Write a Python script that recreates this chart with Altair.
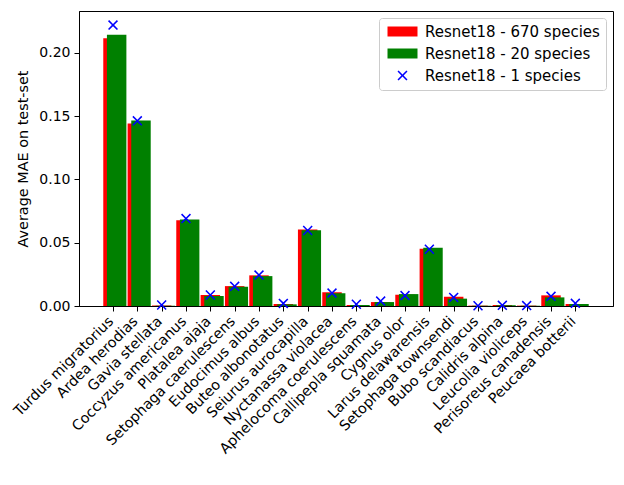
import json
import altair as alt
import pandas as pd

species = [
    "Turdus migratorius", "Ardea herodias", "Gavia stellata", "Coccyzus americanus",
    "Platalea ajaja", "Setophaga caerulescens", "Eudocimus albus", "Buteo albonotatus",
    "Seiurus aurocapilla", "Nyctanassa violacea", "Aphelocoma coerulescens",
    "Callipepla squamata", "Cygnus olor", "Larus delawarensis", "Setophaga townsendi",
    "Bubo scandiacus", "Calidris alpina", "Leucolia violiceps", "Perisoreus canadensis",
    "Peucaea botterii",
]
mae_670 = [0.2113, 0.1441, 0.0004, 0.0677, 0.0087, 0.0157, 0.0242, 0.0016, 0.0604, 0.0108,
           0.0008, 0.0031, 0.0089, 0.0451, 0.0073, 0.0003, 0.0008, 0.0003, 0.0084, 0.0016]
mae_20 = [0.2142, 0.1465, 0.0002, 0.0683, 0.0079, 0.0152, 0.0236, 0.0013, 0.0598, 0.0100,
          0.0008, 0.0031, 0.0094, 0.0460, 0.0058, 0.0002, 0.0006, 0.0002, 0.0068, 0.0016]
mae_1 = [0.2218, 0.1462, 0.0008, 0.0690, 0.0087, 0.0155, 0.0244, 0.0020, 0.0596, 0.0102,
         0.0014, 0.0039, 0.0082, 0.0448, 0.0068, 0.0002, 0.0005, 0.0003, 0.0076, 0.0021]

series_names = ["Resnet18 - 670 species", "Resnet18 - 20 species", "Resnet18 - 1 species"]
series_colors = ["#ff0000", "#008000", "#0000ff"]
yticks = [0.0, 0.05, 0.10, 0.15, 0.20]

rows = []
for i, name in enumerate(species):
    rows.append({"idx": i, "name": name, "series": series_names[0], "value": mae_670[i]})
for i, name in enumerate(species):
    rows.append({"idx": i, "name": name, "series": series_names[1], "value": mae_20[i]})
bars_df = pd.DataFrame(rows)
pts_df = pd.DataFrame({"idx": list(range(len(species))), "name": species,
                       "series": series_names[2], "value": mae_1})

FONT = "DejaVu Sans"
FS = 14

rect_path = "M-3,-1H3V1H-3Z"
x_path = ("M-1,-0.78L-0.78,-1L0,-0.22L0.78,-1L1,-0.78L0.22,0L1,0.78L0.78,1"
          "L0,0.22L-0.78,1L-1,0.78L-0.22,0Z")

xscale = alt.Scale(domain=[-1.3975, 20.5475], nice=False, zero=False)
yscale = alt.Scale(domain=[0, 0.2329], nice=False)
color_scale = alt.Scale(domain=series_names, range=series_colors)
shape_scale = alt.Scale(domain=series_names, range=[rect_path, rect_path, x_path])

label_expr = json.dumps(species) + "[datum.value]"

xaxis = alt.Axis(values=list(range(len(species))), labelExpr=label_expr, title=None,
                 labelAngle=315, labelAlign="right", labelBaseline="top",
                 labelOverlap=False, labelFlush=False, labelBound=False, labelLimit=0,
                 labelFontSize=14.3,
                 labelPadding=3, labelOffset=-7, tickSize=5, grid=False)
yaxis = alt.Axis(values=yticks, format=".2f", title="Average MAE on test-set",
                 titleFontSize=14.4,
                 tickSize=5, labelPadding=4, titlePadding=8, grid=False)
legend = alt.Legend(title=None, orient="top-right")

bars = alt.Chart(bars_df).mark_bar(opacity=1).transform_calculate(
    x0="datum.idx - 0.4 + (datum.series == '" + series_names[1] + "' ? 0.15 : 0)",
    x1="datum.idx + 0.4 + (datum.series == '" + series_names[1] + "' ? 0.15 : 0)",
).encode(
    x=alt.X("x0:Q", scale=xscale, axis=xaxis),
    x2="x1:Q",
    y=alt.Y("value:Q", scale=yscale, axis=yaxis),
    y2=alt.datum(0),
    color=alt.Color("series:N", scale=color_scale, legend=legend),
)

points = alt.Chart(pts_df).mark_point(filled=True, size=100, opacity=1).encode(
    x=alt.X("idx:Q", scale=xscale, axis=xaxis),
    y=alt.Y("value:Q", scale=yscale, axis=yaxis),
    color=alt.Color("series:N", scale=color_scale, legend=legend),
    shape=alt.Shape("series:N", scale=shape_scale, legend=legend),
)

chart = alt.layer(bars, points).properties(
    width=534, height=295,
    autosize=alt.AutoSizeParams(type="none"),
    padding={"left": 71, "top": 3, "right": 3, "bottom": 160},
).configure_view(
    stroke="black", strokeWidth=1
).configure_axis(
    domainColor="black", domainWidth=1, tickColor="black", tickWidth=1,
    labelColor="black", labelFont=FONT, labelFontSize=FS,
    titleColor="black", titleFont=FONT, titleFontSize=FS, titleFontWeight="normal",
).configure_axisX(labelOverlap=False).configure_legend(
    labelFont=FONT, labelFontSize=15, labelColor="black", labelLimit=0,
    strokeColor="#cccccc", fillColor="white", cornerRadius=3,
    padding=6, offset=7, rowPadding=6, symbolOffset=10, labelOffset=15,
    symbolSize=100, symbolStrokeWidth=0,
)

chart.save("out.html", embed_options={"renderer": "svg", "actions": False})
